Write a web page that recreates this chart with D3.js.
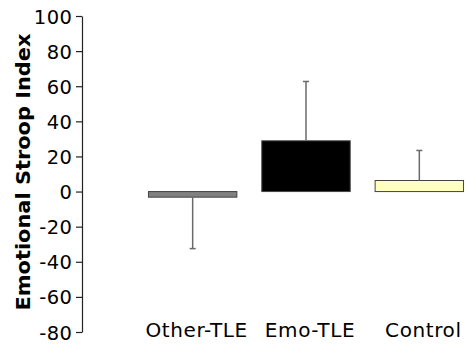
<!DOCTYPE html>
<html>
<head>
<meta charset="utf-8">
<title>Emotional Stroop Index</title>
<script src="https://d3js.org/d3.v7.min.js"></script>
<style>
  body { margin: 0; background: #fff; }
  svg { display: block; font-family: "DejaVu Sans", Verdana, sans-serif; }
</style>
</head>
<body>
<div id="chart"></div>
<script>
const groups = ["Other-TLE", "Emo-TLE", "Control"];
const means = [-3.2, 28.9, 6.3];
const errors = [29.3, 33.8, 17.1];   // one-sided error, drawn away from zero
const fills = ["#808080", "#000000", "#ffffc0"];
const yTicks = [100, 80, 60, 40, 20, 0, -20, -40, -60, -80];

const width = 466, height = 344;

const svg = d3.select("#chart")
    .append("svg")
    .attr("width", width)
    .attr("height", height);

const y = d3.scaleLinear()
    .domain([-80, 100])
    .range([332, 16]);

const x = d3.scaleBand()
    .domain(groups)
    .range([136, 476])
    .paddingInner(0.22)
    .paddingOuter(0.11);

// y axis, plain hyphen for negatives like the original
const yAxis = svg.append("g")
    .attr("transform", "translate(82,0)")
    .call(d3.axisLeft(y)
        .tickValues(yTicks)
        .tickFormat(d => String(d))
        .tickSize(6)
        .tickSizeOuter(0)
        .tickPadding(0));

yAxis.attr("font-size", null).attr("font-family", null);
yAxis.select(".domain").attr("stroke", "#222").attr("stroke-width", 1.2);
yAxis.selectAll(".tick line").attr("stroke", "#222").attr("stroke-width", 1.2);
yAxis.selectAll(".tick text")
    .style("font-size", "19.5px")
    .style("letter-spacing", "0.5px")
    .attr("fill", "#000")
    .attr("x", -9.5)
    .attr("dy", "0.36em");

// axis title
svg.append("text")
    .attr("transform", "translate(30,172) rotate(-90)")
    .attr("text-anchor", "middle")
    .style("font-size", "19px")
    .attr("font-weight", "bold")
    .attr("textLength", 277)
    .attr("lengthAdjust", "spacingAndGlyphs")
    .text("Emotional Stroop Index");

// bars
svg.selectAll(".bar")
    .data(groups)
    .enter()
    .append("rect")
    .attr("class", "bar")
    .attr("x", d => x(d))
    .attr("width", x.bandwidth())
    .attr("y", (d, i) => y(Math.max(0, means[i])))
    .attr("height", (d, i) => Math.abs(y(means[i]) - y(0)))
    .attr("fill", (d, i) => fills[i])
    .attr("stroke", "#444")
    .attr("stroke-width", 1);

// error bars
const err = svg.selectAll(".err")
    .data(groups)
    .enter()
    .append("g")
    .attr("class", "err")
    .attr("stroke", "#6a6a6a")
    .attr("stroke-width", 1.5);

const cx = d => x(d) + x.bandwidth() / 2;
const tip = (d, i) => means[i] + Math.sign(means[i]) * errors[i];

err.append("line")
    .attr("x1", cx)
    .attr("x2", cx)
    .attr("y1", (d, i) => y(means[i]))
    .attr("y2", (d, i) => y(tip(d, i)));

err.append("line")
    .attr("x1", d => cx(d) - 3)
    .attr("x2", d => cx(d) + 3)
    .attr("y1", (d, i) => y(tip(d, i)))
    .attr("y2", (d, i) => y(tip(d, i)));

// category labels
svg.selectAll(".cat")
    .data(groups)
    .enter()
    .append("text")
    .attr("class", "cat")
    .attr("x", d => cx(d) + 4)
    .attr("y", 336.5)
    .attr("text-anchor", "middle")
    .style("font-size", "20px")
    .style("letter-spacing", "0.6px")
    .attr("fill", "#000")
    .text(d => d);
</script>
</body>
</html>
